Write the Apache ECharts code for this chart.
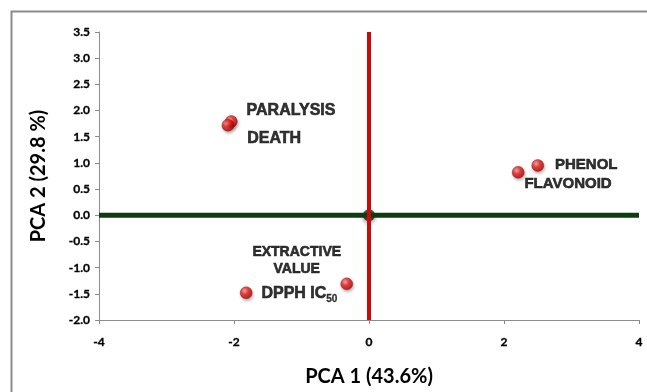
<!DOCTYPE html>
<html>
<head>
<meta charset="utf-8">
<script src="https://cdn.jsdelivr.net/npm/echarts@6/dist/echarts.min.js"></script>
<style>
  html, body { margin: 0; padding: 0; background: #fff; }
  #chart { width: 647px; height: 392px; }
</style>
</head>
<body>
<div id="chart"></div>
<script>
// PCA scores
const names = ['PARALYSIS', 'DEATH', 'PHENOL', 'FLAVONOID', 'EXTRACTIVE\nVALUE', 'DPPH IC50']
const pc1 = [-2.04, -2.09, 2.50, 2.21, -0.33, -1.82]
const pc2 = [1.79, 1.72, 0.95, 0.82, -1.31, -1.48]
const origin = [0, 0]
const xTicks = [-4, -2, 0, 2, 4]
const yTicks = [-2.0, -1.5, -1.0, -0.5, 0.0, 0.5, 1.0, 1.5, 2.0, 2.5, 3.0, 3.5]

// label placement per point (layout only)
const labelLayout = [
  { position: 'right', offset: [9, -11], fontSize: 16 },
  { position: 'right', offset: [13, 13], fontSize: 16 },
  { position: 'right', offset: [11, -1], fontSize: 15 },
  { position: 'right', offset: [0, 12], fontSize: 15 },
  { position: 'top', offset: [-50, 0], fontSize: 14 },
  { position: 'right', offset: [9, 1], fontSize: 16 }
]

const chart = echarts.init(document.getElementById('chart'))

const ball = {
  type: 'radial', x: 0.38, y: 0.35, r: 0.65,
  colorStops: [
    { offset: 0, color: '#ff9a9a' },
    { offset: 0.45, color: '#e81c1c' },
    { offset: 1, color: '#a80000' }
  ]
}

const txt = {
  fontFamily: 'Liberation Sans, Arial', fontWeight: 'bold', color: '#000',
  textBorderColor: '#000', textBorderWidth: 0.6
}

const points = names.map((n, i) => {
  const l = labelLayout[i]
  const isDpph = n.indexOf('IC50') >= 0
  return {
    value: [pc1[i], pc2[i]],
    label: Object.assign({
      show: true,
      position: l.position,
      distance: 0,
      offset: l.offset,
      fontSize: l.fontSize,
      lineHeight: 17,
      align: l.position === 'top' ? 'center' : 'left',
      formatter: isDpph ? '{a|DPPH IC}{s|50}' : n,
      rich: isDpph ? {
        a: Object.assign({ fontSize: 16 }, txt),
        s: Object.assign({ fontSize: 10, padding: [10, 0, 0, 0] }, txt, { textBorderWidth: 0.3 })
      } : undefined
    }, txt)
  }
})

const tickFont = {
  fontFamily: 'Lato', fontWeight: 'bold', fontSize: 12, color: '#000',
  textBorderColor: '#000', textBorderWidth: 0.3
}
const titleFont = { fontFamily: 'Lato', fontWeight: 'bold', fontSize: 20, color: '#000' }

const option = {
  animation: false,
  backgroundColor: '#fff',
  graphic: [{
    type: 'rect',
    shape: { x: 11.5, y: 11.5, width: 700, height: 500 },
    style: { fill: 'none', stroke: '#8c8c8c', lineWidth: 2 },
    silent: true
  }],
  grid: { left: 99, right: 8, top: 32, bottom: 70 },
  xAxis: {
    type: 'value',
    min: -4, max: 4, interval: 2,
    name: 'PCA 1 (43.6%)',
    nameLocation: 'middle',
    nameGap: 47,
    nameTextStyle: titleFont,
    axisLine: { show: true, onZero: false, lineStyle: { color: '#8c8c8c', width: 1 } },
    axisTick: { show: true, inside: false, length: 4, lineStyle: { color: '#8c8c8c' } },
    axisLabel: Object.assign({
      margin: 16,
      showMinLabel: true, showMaxLabel: true,
      formatter: v => xTicks.indexOf(v) >= 0 ? String(v) : ''
    }, tickFont),
    splitLine: { show: false }
  },
  yAxis: {
    type: 'value',
    min: -2, max: 3.5, interval: 0.5,
    name: 'PCA 2 (29.8 %)',
    nameLocation: 'middle',
    nameGap: 50,
    nameTextStyle: titleFont,
    axisLine: { show: true, onZero: false, lineStyle: { color: '#8c8c8c', width: 1 } },
    axisTick: { show: true, inside: false, length: 4, lineStyle: { color: '#8c8c8c' } },
    axisLabel: Object.assign({
      margin: 9,
      formatter: v => yTicks.indexOf(v) >= 0 ? v.toFixed(1) : ''
    }, tickFont),
    splitLine: { show: false }
  },
  series: [
    {
      type: 'scatter',
      symbolSize: 12,
      z: 1,
      data: [origin],
      itemStyle: { color: '#1d2b1d', shadowBlur: 4, shadowColor: 'rgba(0,0,0,0.5)', shadowOffsetY: 2 }
    },
    {
      type: 'line',
      z: 2,
      symbol: 'none',
      data: [[-4, 0], [4, 0]],
      lineStyle: { color: '#0f3a12', width: 5 }
    },
    {
      type: 'line',
      z: 3,
      symbol: 'none',
      data: [[0, -2], [0, 3.5]],
      lineStyle: { color: '#c80a0a', width: 4 }
    },
    {
      type: 'scatter',
      symbolSize: 12,
      z: 5,
      data: points,
      itemStyle: {
        color: ball,
        borderColor: '#a00000',
        borderWidth: 0.5,
        shadowBlur: 3,
        shadowColor: 'rgba(0,0,0,0.35)',
        shadowOffsetX: 1,
        shadowOffsetY: 2
      }
    }
  ]
}

chart.setOption(option)
</script>
</body>
</html>
